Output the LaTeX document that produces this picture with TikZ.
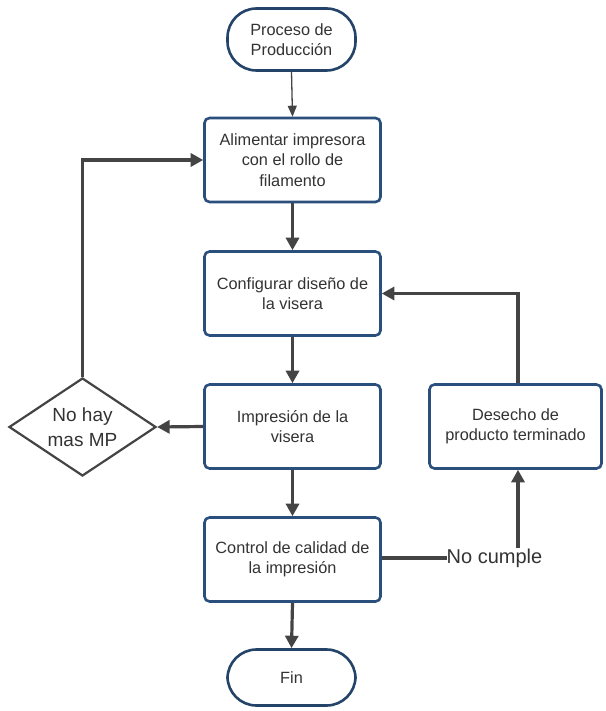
\documentclass[tikz,border=0pt]{standalone}
\usepackage{fontspec}
\setmainfont{Liberation Sans}
\usetikzlibrary{arrows.meta,shapes.geometric,calc}
\definecolor{boxblue}{HTML}{2A4F7C}
\definecolor{arrowgray}{HTML}{444444}
\definecolor{txtgray}{HTML}{333333}
\begin{document}
\begin{tikzpicture}[x=1pt,y=-1pt,
  procbox/.style={draw=boxblue,line width=2.6pt,rounded corners=5pt,fill=white,
    minimum width=176pt,minimum height=84pt,inner sep=0pt,align=center,
    text=txtgray,font=\fontsize{16.3}{20.5}\selectfont},
  pill/.style={draw=boxblue!85!black,line width=2.6pt,rounded corners=29pt,fill=white,
    minimum width=128pt,inner sep=0pt,align=center,
    text=txtgray,font=\fontsize{16.3}{20.5}\selectfont},
  decision/.style={diamond,draw=arrowgray,line width=2.2pt,fill=white,
    minimum width=147pt,minimum height=98pt,inner sep=0pt,shape aspect=1.49,align=center,
    text=txtgray,font=\fontsize{19}{25}\selectfont},
  flow/.style={draw=arrowgray,line width=3.2pt,-{Triangle[length=12.5pt,width=13pt]}},
  thinflow/.style={draw=arrowgray,line width=1.3pt,-{Triangle[length=11pt,width=9pt]}},
  plainline/.style={draw=arrowgray,line width=3.2pt}
]
\useasboundingbox[fill=white] (0,0) rectangle (605,711);

\node[pill,minimum height=62pt] (start) at (291.5,39.5) {Proceso de\\Producción};
\node[procbox] (b1) at (292.5,160) {Alimentar impresora\\con el rollo de\\filamento};
\node[procbox] (b2) at (292.5,293.5) {Configurar diseño de\\la visera};
\node[procbox] (b3) at (292.5,426.5) {Impresión de la\\visera};
\node[procbox] (b4) at (292.5,559.5) {Control de calidad de\\la impresión};
\node[pill,minimum height=56pt] (fin) at (291.5,677.5) {Fin};
\node[decision] (dia) at (82.5,427) {No hay\\mas MP};
\node[procbox,minimum width=172pt] (b5) at (515.5,426.5) {Desecho de\\producto terminado};
\node[inner sep=0pt,text=txtgray,font=\fontsize{20}{24}\selectfont] (nc) at (494.5,558) {No cumple};

\draw[thinflow] (start.south) -- (b1.north);
\draw[flow] (b1.south) -- (b2.north);
\draw[flow] (b2.south) -- (b3.north);
\draw[flow] (b3.south) -- (b4.north);
\draw[flow] (b4.south) -- (fin.north);
\draw[flow] (b3.west) -- (dia.east);
\draw[flow] (dia.north) |- (b1.west);
\draw[plainline] (b4.east |- nc.west) -- (nc.west);
\draw[flow] ([xshift=2.5pt]b5.south |- nc.north) -- ([xshift=2.5pt]b5.south);
\draw[flow] ([xshift=2.5pt]b5.north) |- (b2.east);
\end{tikzpicture}
\end{document}
